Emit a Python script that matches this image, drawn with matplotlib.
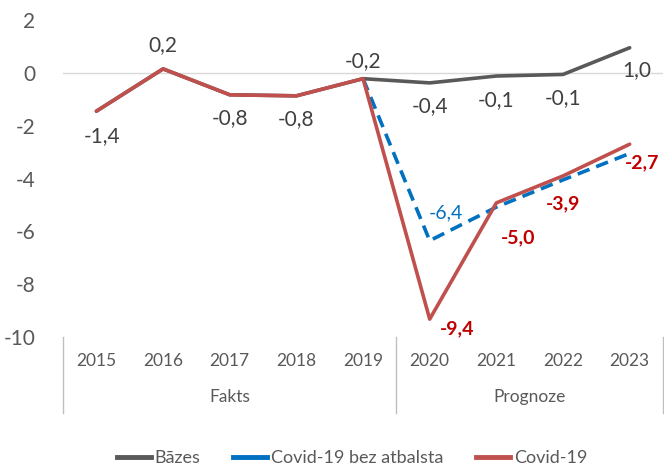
import numpy as np
import matplotlib
matplotlib.use("Agg")
import matplotlib.pyplot as plt
from matplotlib.lines import Line2D

plt.rcParams['font.family'] = ['Lato', 'DejaVu Sans']
plt.rcParams['axes.unicode_minus'] = False

years = ['2015', '2016', '2017', '2018', '2019', '2020', '2021', '2022', '2023']
groups = ['Fakts', 'Prognoze']
bazes = [-1.45, 0.15, -0.83, -0.87, -0.22, -0.38, -0.12, -0.06, 0.95]
bez_atbalsta = [np.nan, np.nan, np.nan, np.nan, -0.22, -6.35, -5.08, -4.05, -3.05]
covid = [-1.45, 0.15, -0.83, -0.87, -0.22, -9.32, -4.92, -3.9, -2.7]

bazes_lbl = ['-1,4', '0,2', '-0,8', '-0,8', '-0,2', '-0,4', '-0,1', '-0,1', '1,0']
covid_lbl = {5: '-9,4', 6: '-5,0', 7: '-3,9', 8: '-2,7'}
bez_lbl = {5: '-6,4'}

gray = '#595959'
blue = '#0070c0'
red = '#c0504d'
dred = '#c00000'
txt = '#595959'

fig = plt.figure(figsize=(6.64, 4.65), dpi=100)
ax = fig.add_axes([0.095, 0.275, 0.9035, 0.682])

x = np.arange(len(years))
ax.axhline(0, color='#d9d9d9', lw=1, zorder=1)
ax.plot(x, bazes, color=gray, lw=2.6, zorder=2, solid_capstyle='round')
ax.plot(x, bez_atbalsta, color=blue, lw=2.6, ls=(0, (3.5, 2)), zorder=3)
ax.plot(x, covid, color=red, lw=2.6, zorder=4, solid_capstyle='round')

ax.set_xlim(-0.5, 8.5)
ax.set_ylim(-10, 2)
ax.set_yticks(range(-10, 3, 2))
ax.tick_params(axis='y', length=0, pad=20, labelsize=15, labelcolor=txt)
ax.set_xticks([])
for s in ax.spines.values():
    s.set_visible(False)

# data labels for base series
offs = {0: (4, -18), 1: (0, 17), 2: (0, -17), 3: (0, -17), 4: (0, 13),
        5: (0, -17), 6: (0, -17), 7: (0, -17), 8: (5, -16)}
for i, lab in enumerate(bazes_lbl):
    dx, dy = offs[i]
    ax.annotate(lab, (x[i], bazes[i]), xytext=(dx, dy), textcoords='offset points',
                ha='center', va='center', fontsize=15, color='#404040')

for i, lab in bez_lbl.items():
    ax.annotate(lab, (x[i], bez_atbalsta[i]), xytext=(12, 20), textcoords='offset points',
                ha='center', va='center', fontsize=14, color=blue)

coffs = {5: (20, -7), 6: (16, -25), 7: (0, -20), 8: (9, -13)}
for i, lab in covid_lbl.items():
    dx, dy = coffs[i]
    ax.annotate(lab, (x[i], covid[i]), xytext=(dx, dy), textcoords='offset points',
                ha='center', va='center', fontsize=14, color=dred, fontweight='bold')

# two-level category axis
trans = ax.get_xaxis_transform()
for i, y in enumerate(years):
    ax.text(x[i], -0.075, y, transform=trans, ha='center', va='center',
            fontsize=12.5, color=txt, clip_on=False)
ax.text(2, -0.188, groups[0], transform=trans, ha='center', va='center',
        fontsize=12.5, color=txt, clip_on=False)
ax.text(6.5, -0.188, groups[1], transform=trans, ha='center', va='center',
        fontsize=12.5, color=txt, clip_on=False)
for xv in (-0.5, 4.5, 8.5):
    ax.add_line(Line2D([xv, xv], [0, -0.24], transform=trans, color='#bfbfbf',
                       lw=1, clip_on=False))

handles = [Line2D([], [], color=gray, lw=3.5),
           Line2D([], [], color=blue, lw=3.5),
           Line2D([], [], color=red, lw=3.5)]
fig.legend(handles, ['Bāzes', 'Covid-19 bez atbalsta', 'Covid-19'], loc='center',
           bbox_to_anchor=(0.53, 0.015), ncol=3, frameon=False, fontsize=13,
           handlelength=1.9, handletextpad=0.2, columnspacing=1.8, labelcolor=txt)

fig.savefig('out.png', dpi=100)
